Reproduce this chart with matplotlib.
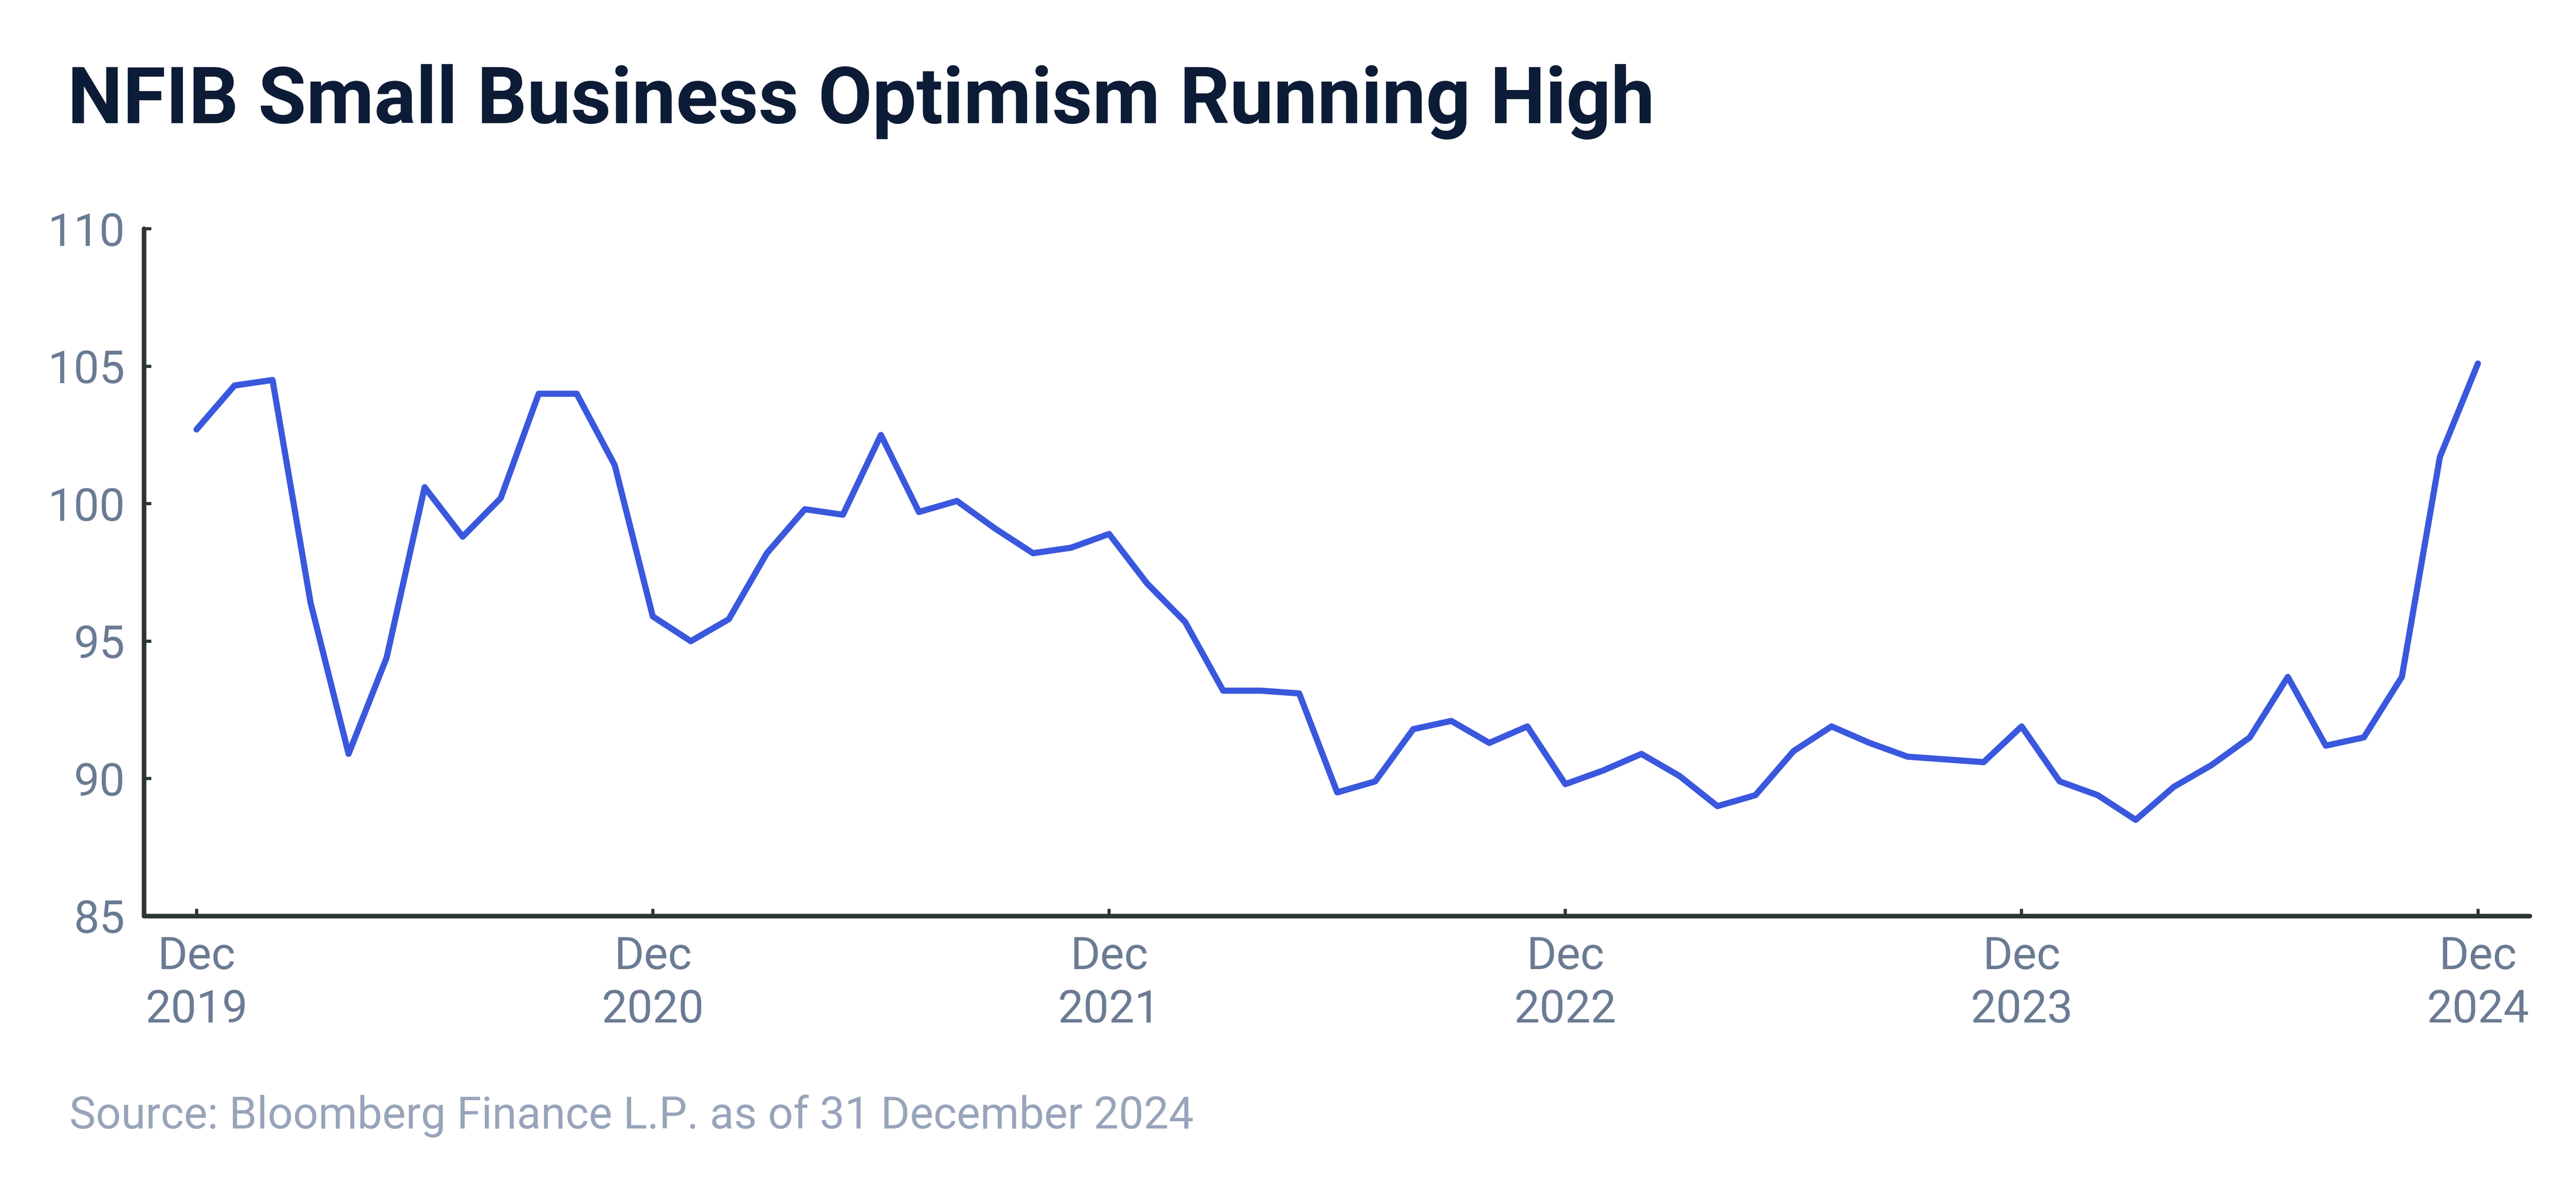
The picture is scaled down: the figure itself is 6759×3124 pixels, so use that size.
import matplotlib.pyplot as plt
import numpy as np

# NFIB Small Business Optimism Index, monthly, Dec 2019 .. Dec 2024
optimism = [
    102.7,                                                                    # Dec 2019
    104.3, 104.5, 96.4, 90.9, 94.4, 100.6, 98.8, 100.2, 104.0, 104.0, 101.4, 95.9,  # 2020
    95.0, 95.8, 98.2, 99.8, 99.6, 102.5, 99.7, 100.1, 99.1, 98.2, 98.4, 98.9,       # 2021
    97.1, 95.7, 93.2, 93.2, 93.1, 89.5, 89.9, 91.8, 92.1, 91.3, 91.9, 89.8,         # 2022
    90.3, 90.9, 90.1, 89.0, 89.4, 91.0, 91.9, 91.3, 90.8, 90.7, 90.6, 91.9,         # 2023
    89.9, 89.4, 88.5, 89.7, 90.5, 91.5, 93.7, 91.2, 91.5, 93.7, 101.7, 105.1,       # 2024
]
tick_labels = ["Dec\n2019", "Dec\n2020", "Dec\n2021", "Dec\n2022", "Dec\n2023", "Dec\n2024"]
y_ticks = [85, 90, 95, 100, 105, 110]

TITLE = "NFIB Small Business Optimism Running High"
SOURCE = "Source: Bloomberg Finance L.P. as of 31 December 2024"

LINE_C = "#3A58DD"
TITLE_C = "#0C1C36"
TICK_C = "#6A7B93"
SOURCE_C = "#97A4BA"
SPINE_C = "#2C3733"

plt.rcParams["font.family"] = ["Roboto", "DejaVu Sans"]

fig = plt.figure(figsize=(33.8, 15.62), dpi=200)
ax = fig.add_axes([0.0559, 0.2308, 0.9261, 0.5771])

x = np.arange(len(optimism))
ax.plot(x, optimism, color=LINE_C, linewidth=5.8, solid_joinstyle="round",
        solid_capstyle="round", zorder=3)

ax.set_xlim(-1.38, 61.37)
ax.set_ylim(85, 110)
ax.set_yticks(y_ticks)
ax.set_yticklabels([str(v) for v in y_ticks])
ax.set_xticks(np.arange(0, len(optimism), 12))
ax.set_xticklabels(tick_labels, linespacing=1.3)

for side in ("top", "right"):
    ax.spines[side].set_visible(False)
for side in ("left", "bottom"):
    ax.spines[side].set_color(SPINE_C)
    ax.spines[side].set_linewidth(4.3)
    ax.spines[side].set_capstyle("round")

ax.tick_params(axis="y", direction="in", length=7, width=3, color=SPINE_C,
               labelsize=43, labelcolor=TICK_C, pad=18)
ax.tick_params(axis="x", direction="in", length=7, width=3, color=SPINE_C,
               labelsize=43, labelcolor=TICK_C, pad=18)

fig.text(0.0262, 0.8966, TITLE, fontsize=74, fontweight="bold", color=TITLE_C,
         ha="left", va="baseline")
fig.text(0.0269, 0.0525, SOURCE, fontsize=42, color=SOURCE_C,
         ha="left", va="baseline")

fig.savefig("out.png", dpi=200, facecolor="white")
